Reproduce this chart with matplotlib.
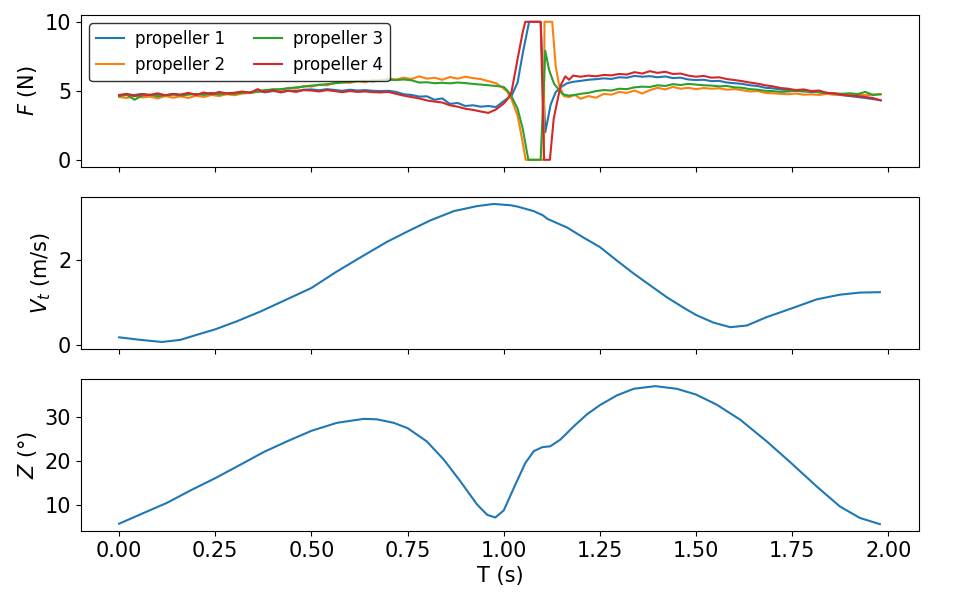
import numpy as np
import matplotlib
matplotlib.use("Agg")
import matplotlib.pyplot as plt

# ---- thrust data (N) ----
# steady part before the flip, sampled every 0.02 s
t_pre = np.round(np.arange(0.0, 0.99, 0.02), 2)
f1_pre = [4.65, 4.72, 4.70, 4.78, 4.68, 4.75, 4.62, 4.74, 4.70, 4.80,
          4.72, 4.78, 4.85, 4.76, 4.82, 4.78, 4.88, 4.84, 4.95, 4.90,
          4.98, 4.94, 5.02, 4.98, 5.08, 5.10, 5.04, 5.12, 5.06, 5.00,
          5.08, 5.02, 5.05, 5.00, 4.98, 5.00, 4.92, 4.75, 4.70, 4.58,
          4.60, 4.35, 4.45, 4.05, 4.12, 3.90, 3.95, 3.85, 3.90, 3.82]
f2_pre = [4.55, 4.48, 4.62, 4.52, 4.58, 4.45, 4.62, 4.50, 4.60, 4.48,
          4.65, 4.55, 4.70, 4.62, 4.75, 4.68, 4.80, 4.85, 4.92, 5.00,
          5.10, 5.05, 5.22, 5.15, 5.35, 5.30, 5.45, 5.40, 5.55, 5.62,
          5.58, 5.70, 5.62, 5.80, 5.72, 5.90, 5.82, 5.95, 5.85, 6.05,
          5.88, 5.95, 5.80, 6.00, 5.88, 6.02, 5.92, 5.85, 5.70, 5.55]
f3_pre = [4.62, 4.70, 4.35, 4.65, 4.72, 4.60, 4.68, 4.74, 4.66, 4.72,
          4.78, 4.70, 4.80, 4.74, 4.82, 4.78, 4.86, 4.90, 4.95, 5.05,
          5.10, 5.12, 5.18, 5.25, 5.30, 5.38, 5.42, 5.48, 5.55, 5.60,
          5.65, 5.70, 5.74, 5.68, 5.76, 5.80, 5.78, 5.82, 5.76, 5.60,
          5.62, 5.55, 5.58, 5.54, 5.60, 5.56, 5.50, 5.45, 5.40, 5.35]
f4_pre = [4.70, 4.78, 4.62, 4.75, 4.70, 4.82, 4.68, 4.78, 4.72, 4.85,
          4.70, 4.88, 4.75, 4.92, 4.80, 4.86, 4.95, 4.85, 5.12, 4.90,
          5.05, 4.88, 5.00, 4.92, 5.05, 5.02, 4.95, 5.05, 4.98, 4.90,
          4.98, 4.92, 4.95, 4.90, 4.88, 4.92, 4.78, 4.65, 4.55, 4.45,
          4.30, 4.22, 4.15, 3.95, 3.85, 3.70, 3.62, 3.50, 3.40, 3.65]

# flip manoeuvre (saturation at 0 / 10 N)
t1_flip = [1.00, 1.01, 1.02, 1.036, 1.05, 1.066, 1.096, 1.108, 1.122, 1.135, 1.15, 1.165, 1.18]
f1_flip = [4.25, 4.45, 4.62, 5.6, 7.8, 10.0, 10.0, 2.0, 4.0, 4.9, 5.3, 5.55, 5.65]
t2_flip = [1.00, 1.01, 1.02, 1.036, 1.049, 1.057, 1.104, 1.106, 1.126, 1.135, 1.144, 1.157, 1.17, 1.185]
f2_flip = [5.16, 4.9, 4.4, 3.2, 1.3, 0.0, 0.0, 10.0, 10.0, 6.8, 5.4, 4.6, 4.55, 4.7]
t3_flip = [1.00, 1.01, 1.02, 1.036, 1.049, 1.064, 1.096, 1.108, 1.118, 1.131, 1.153, 1.17, 1.185]
f3_flip = [5.28, 5.0, 4.6, 3.7, 2.3, 0.0, 0.0, 7.9, 6.5, 5.5, 4.75, 4.65, 4.7]
t4_flip = [1.00, 1.01, 1.02, 1.036, 1.049, 1.056, 1.096, 1.105, 1.12, 1.13, 1.148, 1.16, 1.17, 1.18]
f4_flip = [4.08, 4.4, 4.9, 7.3, 9.2, 10.0, 10.0, 0.0, 0.0, 3.0, 5.4, 6.05, 5.8, 6.1]

# recovery part, sampled every 0.02 s
t_post = np.round(np.arange(1.20, 1.99, 0.02), 2)
f1_post = [5.72, 5.80, 5.84, 5.90, 5.86, 5.98, 5.95, 6.08, 6.02, 6.06,
           5.98, 6.04, 5.92, 5.95, 5.82, 5.78, 5.80, 5.70, 5.72, 5.60,
           5.55, 5.50, 5.40, 5.35, 5.22, 5.18, 5.10, 5.05, 4.98, 5.00,
           4.90, 4.92, 4.78, 4.75, 4.68, 4.62, 4.55, 4.48, 4.40, 4.32]
f2_post = [4.42, 4.62, 4.50, 4.78, 4.72, 4.92, 4.85, 5.02, 4.80, 5.05,
           5.22, 5.10, 5.28, 5.15, 5.22, 5.12, 5.20, 5.15, 5.18, 5.08,
           5.12, 5.05, 4.95, 4.98, 4.85, 4.82, 4.78, 4.75, 4.80, 4.72,
           4.74, 4.70, 4.78, 4.72, 4.76, 4.70, 4.74, 4.68, 4.72, 4.75]
f3_post = [4.78, 4.85, 4.98, 5.05, 5.02, 5.15, 5.12, 5.25, 5.30, 5.28,
           5.40, 5.35, 5.48, 5.42, 5.50, 5.45, 5.40, 5.38, 5.32, 5.35,
           5.25, 5.22, 5.12, 5.08, 5.00, 4.98, 4.92, 4.95, 5.00, 4.94,
           4.98, 4.88, 4.85, 4.82, 4.78, 4.82, 4.76, 4.92, 4.70, 4.75]
f4_post = [6.02, 6.10, 6.05, 6.15, 6.12, 6.22, 6.18, 6.35, 6.25, 6.42,
           6.30, 6.38, 6.22, 6.25, 6.10, 6.02, 6.08, 5.95, 5.98, 5.85,
           5.78, 5.70, 5.60, 5.52, 5.40, 5.32, 5.20, 5.15, 5.05, 5.10,
           4.98, 5.02, 4.85, 4.80, 4.72, 4.65, 4.62, 4.55, 4.48, 4.30]

# ---- tangential velocity (m/s) ----
t_vt = [0.0, 0.055, 0.111, 0.159, 0.202, 0.25, 0.306, 0.367, 0.436, 0.5,
        0.566, 0.636, 0.696, 0.75, 0.809, 0.87, 0.931, 0.974, 1.017, 1.035,
        1.078, 1.102, 1.113, 1.165, 1.208, 1.25, 1.294, 1.338, 1.381, 1.424,
        1.468, 1.5, 1.545, 1.589, 1.632, 1.684, 1.75, 1.814, 1.874, 1.926, 1.978]
vt = [0.17, 0.11, 0.06, 0.11, 0.23, 0.36, 0.55, 0.78, 1.07, 1.34,
      1.73, 2.11, 2.43, 2.68, 2.94, 3.16, 3.28, 3.33, 3.30, 3.27,
      3.16, 3.06, 2.98, 2.77, 2.53, 2.31, 1.99, 1.68, 1.40, 1.12,
      0.87, 0.70, 0.52, 0.41, 0.45, 0.65, 0.86, 1.07, 1.18, 1.23, 1.24]

# ---- angle Z (deg) ----
t_z = [0.0, 0.063, 0.124, 0.185, 0.25, 0.323, 0.376, 0.436, 0.5, 0.566,
       0.636, 0.67, 0.714, 0.75, 0.8, 0.844, 0.887, 0.931, 0.957, 0.978,
       1.0, 1.03, 1.056, 1.078, 1.1, 1.121, 1.147, 1.182, 1.216, 1.25,
       1.294, 1.338, 1.394, 1.45, 1.5, 1.554, 1.615, 1.684, 1.75, 1.814,
       1.874, 1.926, 1.978]
z = [5.8, 8.2, 10.5, 13.3, 16.1, 19.5, 22.0, 24.4, 26.8, 28.6,
     29.5, 29.4, 28.6, 27.4, 24.4, 20.3, 15.4, 10.1, 7.8, 7.2,
     8.8, 14.6, 19.5, 22.2, 23.1, 23.3, 24.8, 27.8, 30.5, 32.6,
     34.8, 36.3, 36.9, 36.3, 35.0, 32.7, 29.3, 24.4, 19.3, 14.2,
     9.7, 7.1, 5.7]

labels = ["propeller 1", "propeller 2", "propeller 3", "propeller 4"]
thrust = [
    (t1_flip, f1_pre, f1_flip, f1_post),
    (t2_flip, f2_pre, f2_flip, f2_post),
    (t3_flip, f3_pre, f3_flip, f3_post),
    (t4_flip, f4_pre, f4_flip, f4_post),
]

plt.rcParams["font.size"] = 15

fig, axes = plt.subplots(3, 1, figsize=(9.54, 5.96), dpi=100, sharex=True)
fig.subplots_adjust(left=0.085, right=0.963, top=0.975, bottom=0.109, hspace=0.2)

ax = axes[0]
for lab, (tf, fpre, fflip, fpost) in zip(labels, thrust):
    t = np.concatenate([t_pre, tf, t_post])
    f = np.concatenate([fpre, fflip, fpost])
    ax.plot(t, f, label=lab)
ax.set_ylabel("$F$ (N)")
ax.legend(ncol=2, loc="upper left", fontsize=12, edgecolor="black",
          handlelength=1.7, handletextpad=0.65, columnspacing=1.7)

axes[1].plot(t_vt, vt)
axes[1].set_ylabel("$V_t$ (m/s)")

axes[2].plot(t_z, z)
axes[2].set_ylabel("$Z$ (°)")
axes[2].set_xlabel("T (s)")

fig.savefig("out.png", dpi=100)
